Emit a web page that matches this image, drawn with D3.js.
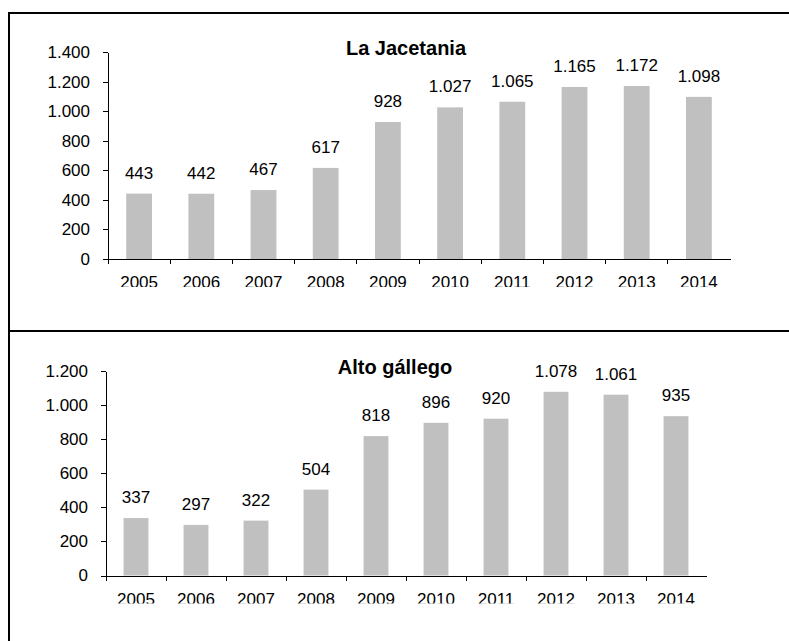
<!DOCTYPE html>
<html lang="es">
<head>
<meta charset="utf-8">
<title>La Jacetania / Alto gállego</title>
<style type="text/css">
body {
  margin: 0;
  background: #fff;
}
svg text {
  font-family: "Liberation Sans", Arial, sans-serif;
  font-size: 17px;
  fill: #000;
}
text.title {
  font-size: 20px;
  font-weight: bold;
}
.bar { fill: #c0c0c0; }
.axis path, .axis line, .tick-mark { stroke: #000; stroke-width: 1px; shape-rendering: crispEdges; }
.frame { stroke: #000; stroke-width: 2px; shape-rendering: crispEdges; }
</style>
</head>
<body>
<svg width="789" height="641"></svg>
<script src="https://d3js.org/d3.v7.min.js"></script>
<script>
// data
var years = ["2005", "2006", "2007", "2008", "2009", "2010", "2011", "2012", "2013", "2014"];
var jacetania = [443, 442, 467, 617, 928, 1027, 1065, 1165, 1172, 1098];
var altoGallego = [337, 297, 322, 504, 818, 896, 920, 1078, 1061, 935];
var jacetaniaTicks = [0, 200, 400, 600, 800, 1000, 1200, 1400];
var altoGallegoTicks = [0, 200, 400, 600, 800, 1000, 1200];

var es = d3.formatLocale({decimal: ",", thousands: ".", grouping: [3], currency: ["", " €"]});
var fmt = es.format(",d");

var svg = d3.select("svg");
var defs = svg.append("defs");

// outer frame + divider
svg.append("line").attr("class", "frame").attr("x1", 8).attr("x2", 789).attr("y1", 13).attr("y2", 13);
svg.append("line").attr("class", "frame").attr("x1", 9).attr("x2", 9).attr("y1", 12).attr("y2", 641);
svg.append("line").attr("class", "frame").attr("x1", 8).attr("x2", 789).attr("y1", 331).attr("y2", 331);

var barPad = 0.585;

function drawChart(id, title, values, ticks, left, right, bottom, top, titleX) {
  var x = d3.scaleBand()
      .domain(years)
      .range([left, right])
      .paddingInner(barPad)
      .paddingOuter(barPad / 2);
  var y = d3.scaleLinear()
      .domain([0, d3.max(ticks)])
      .range([bottom, top]);

  var g = svg.append("g").attr("id", id);

  // bars
  g.selectAll("rect.bar")
      .data(values)
      .enter().append("rect")
        .attr("class", "bar")
        .attr("x", function(d, i) { return x(years[i]); })
        .attr("width", x.bandwidth())
        .attr("y", function(d) { return y(d); })
        .attr("height", function(d) { return y(0) - y(d); });

  // value labels
  g.selectAll("text.val")
      .data(values)
      .enter().append("text")
        .attr("class", "val")
        .attr("text-anchor", "middle")
        .attr("x", function(d, i) { return x(years[i]) + x.bandwidth() / 2; })
        .attr("y", function(d) { return y(d) - 15; })
        .text(function(d) { return fmt(d); });

  // y axis
  var ya = g.append("g")
      .attr("class", "axis")
      .attr("transform", "translate(" + left + ",0)")
      .call(d3.axisLeft(y).tickValues(ticks).tickFormat(fmt).tickSize(5).tickSizeOuter(0).tickPadding(13));
  ya.attr("font-size", null).attr("font-family", null);

  // x axis, labels cut at the bottom like the original
  var clipId = id + "-clip";
  defs.append("clipPath").attr("id", clipId)
    .append("rect").attr("x", left - 40).attr("y", 0).attr("width", right - left + 80).attr("height", 28);

  var xa = g.append("g")
      .attr("class", "axis")
      .attr("transform", "translate(0," + bottom + ")")
      .call(d3.axisBottom(x).tickSize(0).tickSizeOuter(0).tickPadding(17));
  xa.attr("font-size", null).attr("font-family", null);
  var lab = xa.append("g").attr("clip-path", "url(#" + clipId + ")");
  xa.selectAll(".tick").each(function() { lab.node().appendChild(this); });

  // category boundary ticks
  var step = x.step();
  xa.selectAll("line.tick-mark")
      .data(years)
      .enter().append("line")
        .attr("class", "tick-mark")
        .attr("x1", function(d) { return x(d) - step * barPad / 2; })
        .attr("x2", function(d) { return x(d) - step * barPad / 2; })
        .attr("y1", 0)
        .attr("y2", 5);

  // title
  g.append("text")
      .attr("class", "title")
      .attr("text-anchor", "middle")
      .attr("x", titleX)
      .attr("y", top + 2.5)
      .text(title);
}

drawChart("jac", "La Jacetania", jacetania, jacetaniaTicks, 108, 730, 259, 52.3, 406);
drawChart("alto", "Alto gállego", altoGallego, altoGallegoTicks, 106, 706, 575.5, 371, 395);
</script>
</body>
</html>
